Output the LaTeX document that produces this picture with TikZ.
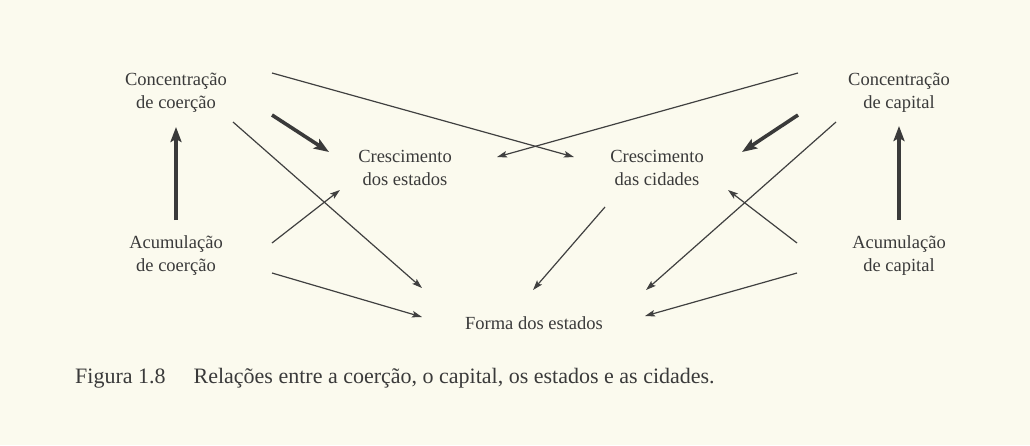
\documentclass[tikz,border=0pt]{standalone}
\usepackage{fontspec}
\setmainfont{Liberation Serif}
\usetikzlibrary{arrows.meta}
\definecolor{paper}{RGB}{251,250,238}
\definecolor{ink}{RGB}{58,58,58}
\definecolor{lineink}{RGB}{64,64,64}
\tikzset{
  lbl/.style={align=center, text=ink, font=\fontsize{18.5}{23}\selectfont, inner sep=0pt},
  captxt/.style={text=ink, font=\fontsize{22}{26}\selectfont, inner sep=0pt},
  thin/.style={draw=lineink, line width=1.2pt, -{Stealth[length=10pt,width=6.5pt,inset=2pt]}},
  thick/.style={draw=lineink!90!black, line width=3.6pt, -{Stealth[length=15pt,width=11pt,inset=3pt]}}
}
\begin{document}
\begin{tikzpicture}[x=1pt,y=-1pt]
\fill[paper] (0,0) rectangle (1030,445);
\useasboundingbox (0,0) rectangle (1030,445);
\node[lbl] (cc) at (176,93) {Concentração\\de coerção};
\node[lbl] (ac) at (176,256) {Acumulação\\de coerção};
\node[lbl] (ce) at (405,168) {Crescimento\\dos estados};
\node[lbl] (cd) at (657,168) {Crescimento\\das cidades};
\node[lbl] (kc) at (899,93) {Concentração\\de capital};
\node[lbl] (ka) at (899,256) {Acumulação\\de capital};
\node[lbl] (fe) at (534,323) {Forma dos estados};
\node[captxt, anchor=base west] (cap) at (75,383) {Figura 1.8\hspace{28pt}Relações entre a coerção, o capital, os estados e as cidades.};
% thick arrows
\draw[thick] ([shift={(0,-36)}]ac.center) -- ([shift={(0,34)}]cc.center);
\draw[thick] ([shift={(0,-36)}]ka.center) -- ([shift={(0,33)}]kc.center);
\draw[thick] ([shift={(96,22)}]cc.center) -- ([shift={(-76,-16)}]ce.center);
\draw[thick] ([shift={(-101,22)}]kc.center) -- ([shift={(85,-16)}]cd.center);
% thin arrows
\draw[thin] ([shift={(96,-20)}]cc.center) -- ([shift={(-83,-11)}]cd.center);
\draw[thin] ([shift={(-101,-20)}]kc.center) -- ([shift={(92,-11)}]ce.center);
\draw[thin] ([shift={(57,29)}]cc.center) -- ([shift={(-112,-35)}]fe.center);
\draw[thin] ([shift={(96,-13)}]ac.center) -- ([shift={(-65,22)}]ce.center);
\draw[thin] ([shift={(96,17)}]ac.center) -- ([shift={(-112,-6)}]fe.center);
\draw[thin] ([shift={(-52,39)}]cd.center) -- ([shift={(-1,-33)}]fe.center);
\draw[thin] ([shift={(-63,29)}]kc.center) -- ([shift={(112,-33)}]fe.center);
\draw[thin] ([shift={(-102,-13)}]ka.center) -- ([shift={(71,22)}]cd.center);
\draw[thin] ([shift={(-102,17)}]ka.center) -- ([shift={(111,-7)}]fe.center);
\end{tikzpicture}
\end{document}
